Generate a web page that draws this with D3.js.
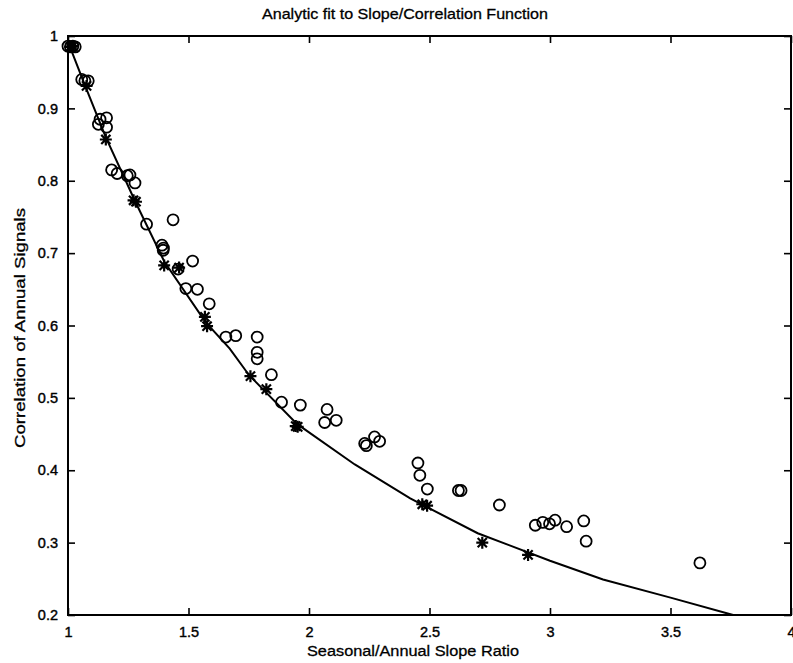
<!DOCTYPE html>
<html><head><meta charset="utf-8">
<script src="https://cdn.jsdelivr.net/npm/d3@7/dist/d3.min.js"></script>
<style>body{margin:0;background:#fff}text{font-family:"Liberation Sans",Arial,Helvetica,sans-serif;fill:#000}</style>
</head><body><svg id="c" width="793" height="663"></svg>
<script>
// observed data (circles)
const circleX = [1.00,1.01,1.02,1.03,1.057,1.070,1.084,1.133,1.126,1.160,1.160,1.181,1.204,1.246,1.257,1.278,1.326,1.436,1.390,1.396,1.395,1.457,1.517,1.489,1.537,1.586,1.655,1.696,1.785,1.785,1.785,1.844,1.886,1.964,2.075,2.065,2.113,2.231,2.238,2.272,2.293,2.452,2.460,2.491,2.620,2.631,2.790,2.939,2.970,2.998,3.021,3.069,3.140,3.150,3.622];
const circleY = [0.986,0.985,0.986,0.985,0.940,0.938,0.938,0.885,0.878,0.887,0.874,0.815,0.810,0.807,0.808,0.797,0.740,0.746,0.711,0.707,0.704,0.678,0.689,0.651,0.650,0.630,0.584,0.586,0.584,0.563,0.554,0.532,0.494,0.490,0.484,0.466,0.469,0.437,0.434,0.446,0.440,0.410,0.393,0.374,0.372,0.372,0.352,0.324,0.328,0.326,0.331,0.322,0.330,0.302,0.272];
// model points (asterisks)
const starX = [1.010,1.020,1.077,1.157,1.272,1.282,1.399,1.461,1.568,1.577,1.757,1.823,1.945,1.953,2.470,2.490,2.719,2.909];
const starY = [0.985,0.986,0.931,0.857,0.773,0.771,0.683,0.680,0.612,0.599,0.530,0.512,0.461,0.460,0.353,0.351,0.300,0.283];
// analytic fit curve
const fitX = [1.00,1.07,1.157,1.278,1.40,1.57,1.671,1.75,1.95,2.19,2.42,2.70,3.00,3.22,3.50,3.76];
const fitY = [0.992,0.932,0.860,0.772,0.688,0.605,0.568,0.532,0.464,0.408,0.361,0.313,0.275,0.249,0.224,0.200];
const xTicks = [1,1.5,2,2.5,3,3.5,4];
const xTickLabels = ["1","1.5","2","2.5","3","3.5","4"];
const yTicks = [0.2,0.3,0.4,0.5,0.6,0.7,0.8,0.9,1];
const yTickLabels = ["0.2","0.3","0.4","0.5","0.6","0.7","0.8","0.9","1"];

const svg = d3.select("#c");
const L=68, R=791, T=36, B=615;
const x = d3.scaleLinear().domain([1,4]).range([L,R]);
const y = d3.scaleLinear().domain([0.2,1]).range([B,T]);

function styleAxis(g){
  g.select(".domain").remove();
  g.selectAll(".tick line").attr("stroke","#000").attr("stroke-width",1.6);
  g.selectAll(".tick text").style("font-size","14.5px").style("font-family",'"Liberation Sans",Arial,sans-serif')
    .attr("fill","#000").attr("stroke","#000").attr("stroke-width",0.4);
}
svg.append("g").attr("transform",`translate(0,${B})`)
  .call(d3.axisBottom(x).tickValues(xTicks).tickFormat((d,i)=>xTickLabels[i]).tickSizeInner(-7).tickSizeOuter(0).tickPadding(12))
  .call(styleAxis);
svg.append("g").attr("transform",`translate(0,${T})`)
  .call(d3.axisTop(x).tickValues(xTicks).tickFormat("").tickSizeInner(-7).tickSizeOuter(0))
  .call(styleAxis);
svg.append("g").attr("transform",`translate(${L},0)`)
  .call(d3.axisLeft(y).tickValues(yTicks).tickFormat((d,i)=>yTickLabels[i]).tickSizeInner(-7).tickSizeOuter(0).tickPadding(10))
  .call(styleAxis);
svg.append("g").attr("transform",`translate(${R},0)`)
  .call(d3.axisRight(y).tickValues(yTicks).tickFormat("").tickSizeInner(-7).tickSizeOuter(0))
  .call(styleAxis);

svg.append("rect").attr("x",L).attr("y",T).attr("width",R-L).attr("height",B-T)
  .attr("fill","none").attr("stroke","#000").attr("stroke-width",2);

// fit line
const fitData = fitX.map((v,i)=>[v,fitY[i]]);
svg.append("path").datum(fitData)
  .attr("d", d3.line().x(d=>x(d[0])).y(d=>y(d[1])))
  .attr("fill","none").attr("stroke","#000").attr("stroke-width",2);

// circles
svg.append("g").selectAll("circle").data(circleX.map((v,i)=>[v,circleY[i]])).join("circle")
  .attr("cx",d=>x(d[0])).attr("cy",d=>y(d[1])).attr("r",5.5)
  .attr("fill","none").attr("stroke","#000").attr("stroke-width",1.8);

// asterisks
const s=6, sd=4.6;
const starPath = `M0,${-s}V${s}M${-s},0H${s}M${-sd},${-sd}L${sd},${sd}M${-sd},${sd}L${sd},${-sd}`;
svg.append("g").selectAll("path").data(starX.map((v,i)=>[v,starY[i]])).join("path")
  .attr("transform",d=>`translate(${x(d[0])},${y(d[1])})`)
  .attr("d",starPath).attr("stroke","#000").attr("stroke-width",2.2).attr("fill","none");

// texts
svg.append("text").attr("x",405).attr("y",19).attr("text-anchor","middle")
  .attr("textLength",286).attr("lengthAdjust","spacingAndGlyphs")
  .style("font-size","15px").attr("stroke","#000").attr("stroke-width",0.3)
  .text("Analytic fit to Slope/Correlation Function");
svg.append("text").attr("x",413).attr("y",656).attr("text-anchor","middle")
  .attr("textLength",212).attr("lengthAdjust","spacingAndGlyphs")
  .style("font-size","15.5px").attr("stroke","#000").attr("stroke-width",0.3)
  .text("Seasonal/Annual Slope Ratio");
svg.append("text").attr("transform","translate(25,328) rotate(-90)").attr("text-anchor","middle")
  .attr("textLength",240).attr("lengthAdjust","spacingAndGlyphs")
  .style("font-size","15.5px").attr("stroke","#000").attr("stroke-width",0.3)
  .text("Correlation of Annual Signals");
</script></body></html>
